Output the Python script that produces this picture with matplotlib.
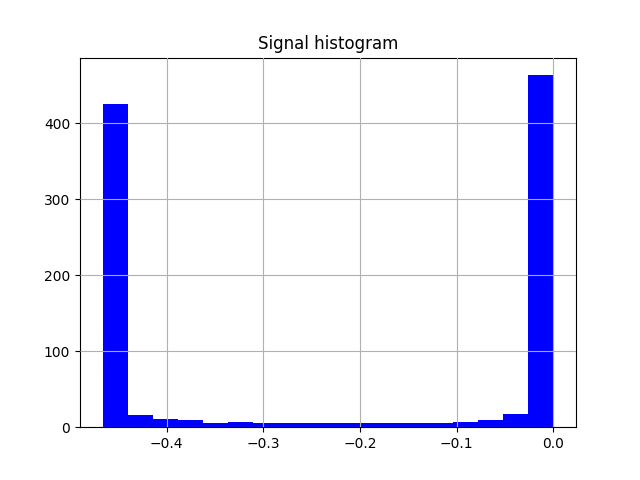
import numpy as np
import matplotlib
matplotlib.use("Agg")
import matplotlib.pyplot as plt

# Histogram data
bin_start = -0.4663
bin_stop = 0.0
counts = [425, 16, 11, 9, 5, 7, 5, 5, 5, 6, 5, 5, 6, 6, 7, 10, 17, 463]

edges = np.linspace(bin_start, bin_stop, len(counts) + 1)

fig, ax = plt.subplots(figsize=(6.4, 4.8), dpi=100)
ax.hist(edges[:-1], bins=edges, weights=counts, color="blue")
ax.set_title("Signal histogram")
ax.grid(True)
ax.set_axisbelow(False)

fig.savefig("out.png")
